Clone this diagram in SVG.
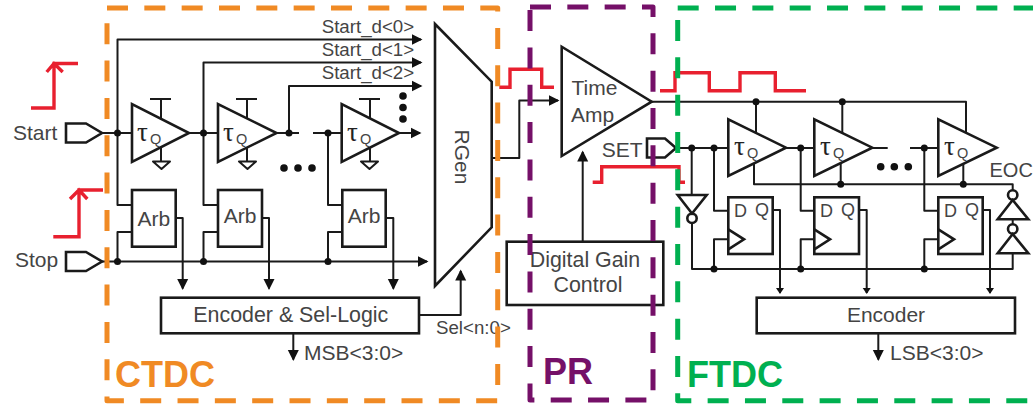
<svg xmlns="http://www.w3.org/2000/svg" width="1033" height="404" viewBox="0 0 1033 404">
<style>
text{font-family:"Liberation Sans",Arial,sans-serif;fill:#444;font-size:21px}
.s{font-size:18.7px}
.arb{font-size:21px}
.enc{font-size:21.4px}
.ff{font-size:18px}
.tau{font-family:"Liberation Serif","Times New Roman",serif;font-size:27px;fill:#222}
.sub{font-family:"Liberation Sans",Arial,sans-serif;font-size:14.5px;fill:#444}
.b{fill:none;stroke:#1a1a1a;stroke-width:2.6;stroke-linejoin:miter}
.w{fill:none;stroke:#1a1a1a;stroke-width:2;stroke-linejoin:round}
.a{marker-end:url(#arr)}
.as{marker-end:url(#arrs)}
.d{fill:#111}
.red{fill:none;stroke:#E8202F;stroke-width:3.4;stroke-linejoin:miter}
.dash{fill:none;stroke-width:5;stroke-dasharray:21 16.33;stroke-linejoin:round}
.lab{font-size:36px;font-weight:bold}
</style>
<defs>
<marker id="arr" markerUnits="userSpaceOnUse" markerWidth="13" markerHeight="12" viewBox="0 0 13 12" refX="9.5" refY="6" orient="auto"><path d="M0,.5L11,6L0,11.5z" fill="#111"/></marker>
<marker id="arrs" markerUnits="userSpaceOnUse" markerWidth="9" markerHeight="10" viewBox="0 0 9 10" refX="5" refY="5" orient="auto"><path d="M0,1L6,5L0,9z" fill="#111"/></marker>
</defs>
<rect width="1033" height="404" fill="#fff"/>

<g id="connectors">
<path class="w" d="M102,133H131"/>
<path class="w a" d="M117.5,133V39.5H421"/>
<path class="w a" d="M203.5,133V62.5H421"/>
<path class="w a" d="M289,133V86H421"/>
<path class="w" d="M188,133H217.5"/>
<path class="w" d="M276,133H299"/>
<path class="w" d="M313,133H341"/>
<path class="w a" d="M399,133H420"/>
<path class="w" d="M117.5,133V205H132"/>
<path class="w" d="M203.5,133V205H218"/>
<path class="w" d="M328,133V205H342"/>
<path class="w" d="M117.5,261.5V232H132"/>
<path class="w" d="M203.5,261.5V232H218"/>
<path class="w" d="M328,261.5V232H342"/>
<path class="w a" d="M102,261.5H427"/>
<path class="w a" d="M175.7,218H182.7V288.5"/>
<path class="w a" d="M262,218H269V288.5"/>
<path class="w a" d="M385.7,218H393.3V288.5"/>
<path class="w a" d="M293.3,333V359.5"/>
<path class="w a" d="M419,315H460.7V271"/>
<path class="w a" d="M491.7,158H519.3V100.5H558"/>
<path class="w a" d="M582.7,241V152"/>
<path class="w" d="M651,101.7H966V133"/>
<path class="w" d="M756,101.7V133"/>
<path class="w" d="M842.3,101.7V133"/>
<path class="w" d="M676,148H728"/>
<path class="w" d="M786,148H814"/>
<path class="w" d="M872,148H887.7"/>
<path class="w" d="M910,148H938"/>
<path class="w" d="M691.7,148V195"/>
<path class="w" d="M714,148V210.7H728"/>
<path class="w" d="M800.7,148V210.7H814"/>
<path class="w" d="M924.3,148V210.7H938"/>
<path class="w" d="M754,163V184.3H1012.7V190"/>
<path class="w" d="M840.7,163V184.3"/>
<path class="w" d="M963.3,163V184.3"/>
<path class="w" d="M692,223V269H1012.7V253"/>
<path class="w" d="M1012.7,219V224"/>
<path class="w" d="M714,269V239.3H728"/>
<path class="w" d="M800.7,269V239.3H814"/>
<path class="w" d="M924.3,269V239.3H938"/>
<path class="w as" d="M772.7,210H780V293"/>
<path class="w as" d="M859,210H866.7V293"/>
<path class="w as" d="M982.7,210H990V293"/>
<path class="w a" d="M878.3,333V359.5"/>
<g class="d">
<circle cx="117.5" cy="133" r="3.5"/><circle cx="203.5" cy="133" r="3.5"/><circle cx="289" cy="133" r="3.5"/><circle cx="328" cy="133" r="3.5"/>
<circle cx="117.5" cy="261.5" r="3.5"/><circle cx="203.5" cy="261.5" r="3.5"/><circle cx="328" cy="261.5" r="3.5"/>
<circle cx="756" cy="101.7" r="3.5"/><circle cx="842.3" cy="101.7" r="3.5"/>
<circle cx="691.7" cy="148" r="3.5"/><circle cx="714" cy="148" r="3.5"/><circle cx="800.7" cy="148" r="3.5"/><circle cx="924.3" cy="148" r="3.5"/>
<circle cx="840.7" cy="184.3" r="3.5"/><circle cx="963.3" cy="184.3" r="3.5"/>
<circle cx="714" cy="269" r="3.5"/><circle cx="800.7" cy="269" r="3.5"/><circle cx="924.3" cy="269" r="3.5"/>
<circle cx="284" cy="168" r="3.8"/><circle cx="298" cy="168" r="3.8"/><circle cx="312" cy="168" r="3.8"/>
<circle cx="403" cy="96" r="3.8"/><circle cx="403" cy="107.5" r="3.8"/><circle cx="403" cy="119" r="3.8"/>
<circle cx="880.7" cy="166.7" r="3.8"/><circle cx="894.3" cy="166.7" r="3.8"/><circle cx="908.3" cy="166.7" r="3.8"/>
</g>
</g>

<g id="waveforms">
<path class="red" d="M31,108H54V63.5H78M46.7,72L54,63.5L62.7,72"/>
<path class="red" d="M53.3,236.7H79V190H103M70,199L79,190L87.3,199"/>
<path class="red" d="M499.3,87.3H510V69.3H541.7V87.3H554"/>
<path class="red" d="M660,90.7H675V72.7H709.3V90.7H740V72.7H775.3V90.7H806"/>
<path class="red" d="M592.7,182.3H601.7V166.7H679V182.3H685"/>
</g>

<g id="start-port"><text x="13" y="140">Start</text><path class="b" d="M66,123.5H86L102,133L86,142.5H66z"/></g>
<g id="stop-port"><text x="15" y="267">Stop</text><path class="b" d="M66,252H86L102,261.5L86,271H66z"/></g>

<g id="cbuf1"><path class="b" d="M132,104V162L189,133z"/><path class="w" d="M150,99H171M161,99V118M161,148V161.5"/><path class="w" d="M153,161.5H170L161.5,169z"/><text class="tau" x="137" y="141">τ<tspan class="sub" x="150" y="144">Q</tspan></text></g>
<g id="cbuf2"><path class="b" d="M218,104V162L276.5,133z"/><path class="w" d="M236,99H257M247,99V118M247,148V161.5"/><path class="w" d="M239,161.5H256L247.5,169z"/><text class="tau" x="223" y="141">τ<tspan class="sub" x="236" y="144">Q</tspan></text></g>
<g id="cbuf3"><path class="b" d="M341.7,104V162L399,133z"/><path class="w" d="M359,99H380M370,99V118M370,148V161.5"/><path class="w" d="M361,161.5H378L369.5,169z"/><text class="tau" x="347" y="141">τ<tspan class="sub" x="360" y="144">Q</tspan></text></g>

<g id="arb1"><rect class="b" x="132" y="190" width="43.7" height="56.7"/><text class="arb" x="153.8" y="225.5" text-anchor="middle">Arb</text></g>
<g id="arb2"><rect class="b" x="218" y="190" width="44" height="56.7"/><text class="arb" x="240" y="223" text-anchor="middle">Arb</text></g>
<g id="arb3"><rect class="b" x="342.3" y="190" width="43.4" height="56.7"/><text class="arb" x="364" y="223" text-anchor="middle">Arb</text></g>

<g id="start-labels">
<text class="s" x="321.7" y="33">Start_d&lt;0&gt;</text>
<text class="s" x="321.7" y="56">Start_d&lt;1&gt;</text>
<text class="s" x="321.7" y="78.7">Start_d&lt;2&gt;</text>
</g>

<g id="rgen"><path class="b" d="M435,24L491.7,81.7V227.3L435,286z"/><text transform="translate(454.5,157) rotate(90)" text-anchor="middle">RGen</text></g>

<g id="encoder-sel"><rect class="b" x="161" y="297.7" width="258" height="35.6"/><text class="enc" x="290.8" y="321.7" text-anchor="middle">Encoder &amp; Sel-Logic</text></g>
<text id="msb" x="304" y="360">MSB&lt;3:0&gt;</text>
<text id="sel" class="s" x="436" y="334">Sel&lt;n:0&gt;</text>

<g id="time-amp"><path class="b" d="M561.7,46.7V156L651.7,101.7z"/><text x="571.5" y="95">Time</text><text x="571" y="121.6">Amp</text></g>
<g id="digital-gain"><rect class="b" x="506.7" y="241.7" width="156.6" height="63.3"/><text class="enc" x="585" y="266.7" text-anchor="middle">Digital Gain</text><text class="enc" x="588" y="291.7" text-anchor="middle">Control</text></g>
<g id="set-port"><text x="601.7" y="156.7">SET</text><path class="b" d="M647,138.5H665L676,148L665,157.5H647z"/></g>

<g id="fbuf1"><path class="b" d="M728.3,119.3V176L786,147.7z"/><text class="tau" x="734" y="155">τ<tspan class="sub" x="747" y="158">Q</tspan></text></g>
<g id="fbuf2"><path class="b" d="M814.3,119.3V176L872.3,147.7z"/><text class="tau" x="820" y="155">τ<tspan class="sub" x="833" y="158">Q</tspan></text></g>
<g id="fbuf3"><path class="b" d="M938.3,119.3V176L996.7,147.7z"/><text class="tau" x="944" y="155">τ<tspan class="sub" x="957" y="158">Q</tspan></text></g>

<g id="inv-set"><path class="b" d="M677.7,195H706.7L692,213.5z"/><circle class="b" cx="692" cy="218.3" r="4.7"/></g>
<g id="inv-eoc1"><circle class="b" cx="1012.7" cy="195" r="4.7"/><path class="b" d="M1012.7,200L997.7,219.3H1028.3z"/></g>
<g id="inv-eoc2"><circle class="b" cx="1012.7" cy="229" r="4.7"/><path class="b" d="M1012.7,234L997.7,253.3H1028.3z"/></g>
<text id="eoc" x="989.5" y="176.7" style="font-size:20px">EOC</text>

<g id="dff1"><rect class="b" x="728.3" y="197.3" width="44.4" height="56.7"/><path class="b" d="M728.3,229.3L744,239.3L728.3,249.3"/><text class="ff" x="734" y="216.7">D</text><text class="ff" x="755" y="215.7">Q</text></g>
<g id="dff2"><rect class="b" x="814.3" y="197.3" width="44.7" height="56.7"/><path class="b" d="M814.3,229.3L830,239.3L814.3,249.3"/><text class="ff" x="820" y="216.7">D</text><text class="ff" x="841" y="215.7">Q</text></g>
<g id="dff3"><rect class="b" x="938.3" y="197.3" width="44.4" height="56.7"/><path class="b" d="M938.3,229.3L954,239.3L938.3,249.3"/><text class="ff" x="944" y="216.7">D</text><text class="ff" x="965" y="215.7">Q</text></g>

<g id="encoder-f"><rect class="b" x="756.7" y="297.7" width="258.3" height="35.6"/><text x="886" y="321.7" text-anchor="middle">Encoder</text></g>
<text id="lsb" x="890" y="360">LSB&lt;3:0&gt;</text>

<g id="region-ftdc">
<path class="dash" stroke="#00B050" d="M677.7,8H1040"/>
<path class="dash" stroke="#00B050" d="M677.7,20V400.7H1040"/>
<text class="lab" x="687" y="386.7" style="fill:#00B050">FTDC</text>
</g>
<g id="region-ctdc">
<path class="dash" stroke="#F08A24" d="M107,8H497.7V400.7H107z"/>
<text class="lab" x="115" y="386.7" style="fill:#F08A24">CTDC</text>
</g>
<g id="region-pr">
<path class="dash" stroke="#751068" d="M530,7H653V400H530z"/>
<text class="lab" x="543" y="384" style="fill:#751068">PR</text>
</g>
</svg>
